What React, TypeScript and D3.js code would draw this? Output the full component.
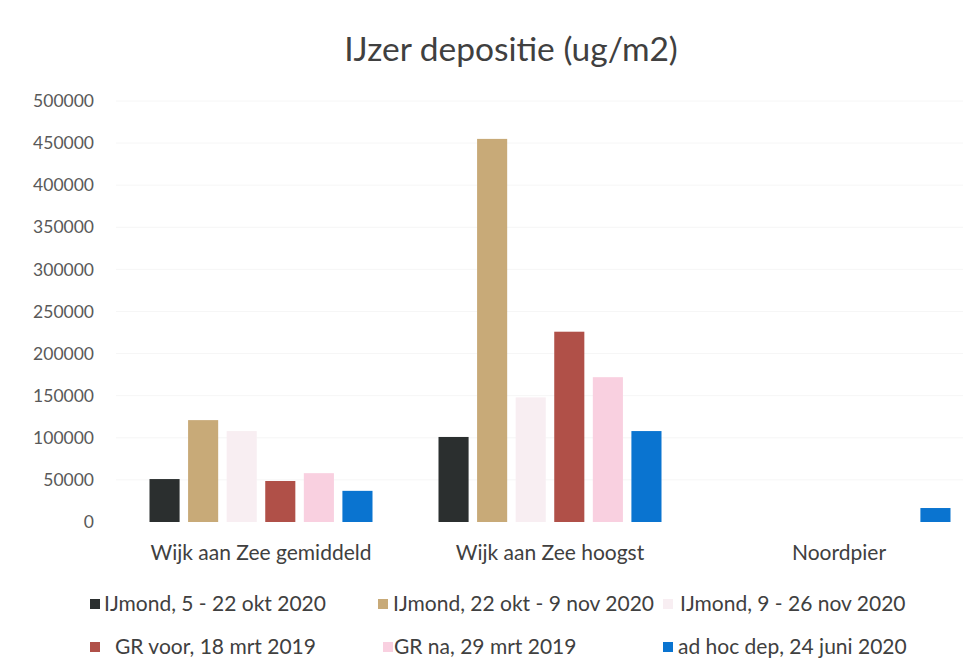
import React, { useEffect, useRef } from "react";
import * as d3 from "d3";

const categories = ["Wijk aan Zee gemiddeld", "Wijk aan Zee hoogst", "Noordpier"];
const seriesNames = [
  "IJmond, 5 - 22 okt 2020",
  "IJmond, 22 okt - 9 nov 2020",
  "IJmond, 9 - 26 nov 2020",
  "GR voor, 18 mrt 2019",
  "GR na, 29 mrt 2019",
  "ad hoc dep, 24 juni 2020",
];
const seriesColors = ["#2b2f2f", "#c8aa78", "#f8eef2", "#b05048", "#f9d0e0", "#0a74d0"];
// one array per series, values for each category (null = no bar)
const ijmondOkt = [51000, 101000, null];
const ijmondOktNov = [121000, 455000, null];
const ijmondNov = [108000, 148000, null];
const grVoor = [48700, 226000, null];
const grNa = [58000, 172000, null];
const adHoc = [37000, 108000, 16600];
const seriesValues = [ijmondOkt, ijmondOktNov, ijmondNov, grVoor, grNa, adHoc];
const yTicks = [0, 50000, 100000, 150000, 200000, 250000, 300000, 350000, 400000, 450000, 500000];

const width = 963;
const height = 667;
const font = "Lato, 'Open Sans', sans-serif";

const App = () => {
  const ref = useRef<SVGSVGElement | null>(null);

  useEffect(() => {
    if (!ref.current) return;
    const svg = d3.select(ref.current);
    svg.selectAll("*").remove();

    const y = d3.scaleLinear().domain([0, 500000]).range([522, 101]);
    const x0 = d3.scaleBand<string>().domain(categories).range([116.5, 983.5]);
    const clusterW = 223;
    const x1 = d3
      .scaleBand<number>()
      .domain(d3.range(seriesNames.length))
      .range([0, clusterW])
      .paddingInner(0.22);
    const offset = (x0.bandwidth() - clusterW) / 2;

    svg.append("rect").attr("width", width).attr("height", height).attr("fill", "#fff");

    // faint gridlines
    svg
      .append("g")
      .selectAll("line")
      .data(yTicks.slice(1))
      .join("line")
      .attr("x1", 116)
      .attr("x2", width)
      .attr("y1", (d) => y(d))
      .attr("y2", (d) => y(d))
      .attr("stroke", "#f6f6f6")
      .attr("stroke-width", 1);

    svg
      .append("g")
      .selectAll("text")
      .data(yTicks)
      .join("text")
      .attr("x", 94)
      .attr("y", (d) => y(d))
      .attr("dy", "0.35em")
      .attr("text-anchor", "end")
      .attr("font-family", font)
      .attr("font-size", 17.5)
      .attr("fill", "#595959")
      .text((d) => String(d));

    const groups = svg
      .append("g")
      .selectAll("g")
      .data(categories)
      .join("g")
      .attr("transform", (d) => `translate(${(x0(d) ?? 0) + offset},0)`);

    groups
      .selectAll("rect")
      .data((_, ci) =>
        seriesValues
          .map((vals, si) => ({ si, v: vals[ci] }))
          .filter((d) => d.v != null) as { si: number; v: number }[]
      )
      .join("rect")
      .attr("x", (d) => x1(d.si) ?? 0)
      .attr("width", x1.bandwidth())
      .attr("y", (d) => y(d.v))
      .attr("height", (d) => y(0) - y(d.v))
      .attr("fill", (d) => seriesColors[d.si]);

    svg
      .append("g")
      .selectAll("text")
      .data(categories)
      .join("text")
      .attr("x", (d) => (x0(d) ?? 0) + x0.bandwidth() / 2)
      .attr("y", 553)
      .attr("dy", "0.35em")
      .attr("text-anchor", "middle")
      .attr("font-family", font)
      .attr("font-size", 21)
      .attr("fill", "#404040")
      .text((d) => d);

    svg
      .append("text")
      .attr("x", 511)
      .attr("y", 49)
      .attr("dy", "0.35em")
      .attr("text-anchor", "middle")
      .attr("font-family", font)
      .attr("font-size", 33.5)
      .attr("fill", "#404040")
      .text("IJzer depositie (ug/m2)");

    const legendPos = [
      [90, 604, 104],
      [378, 604, 393],
      [663, 604, 680],
      [90, 647, 115],
      [383, 647, 394],
      [663, 647, 678],
    ];
    const legend = svg
      .append("g")
      .selectAll("g")
      .data(seriesNames)
      .join("g");
    legend
      .append("rect")
      .attr("x", (_, i) => legendPos[i][0])
      .attr("y", (_, i) => legendPos[i][1] - 5)
      .attr("width", 10)
      .attr("height", 10)
      .attr("fill", (_, i) => seriesColors[i]);
    legend
      .append("text")
      .attr("x", (_, i) => legendPos[i][2])
      .attr("y", (_, i) => legendPos[i][1])
      .attr("dy", "0.35em")
      .attr("font-family", font)
      .attr("font-size", 21)
      .attr("fill", "#404040")
      .text((d) => d);
  }, []);

  return (
    <svg
      ref={ref}
      width={width}
      height={height}
      style={{ position: "absolute", left: 0, top: 0, display: "block" }}
    />
  );
};

export default App;
